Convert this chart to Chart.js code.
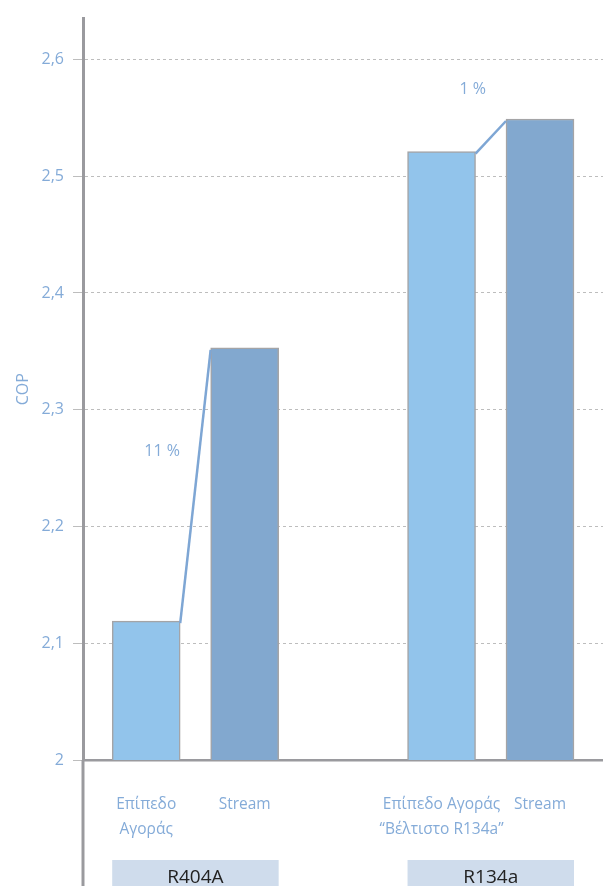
<!DOCTYPE html>
<html>
<head>
<meta charset="utf-8">
<script src="https://cdn.jsdelivr.net/npm/chart.js@4/dist/chart.umd.min.js"></script>
<style>
  body { margin: 0; background: #fff; }
  #wrap { width: 603px; height: 886px; }
</style>
</head>
<body>
<div id="wrap"><canvas id="chart"></canvas></div>
<script>
// slot order along x, a null slot leaves the gap between the two groups
const categories = ['Επίπεδο\nΑγοράς', 'Stream', null, 'Επίπεδο Αγοράς\n“Βέλτιστο R134a”', 'Stream'];
const copValues = [2.119, 2.353, null, 2.521, 2.549];
const groups = ['R404A', 'R134a'];
const gains = ['11 %', '1 %'];
const yTicks = [2, 2.1, 2.2, 2.3, 2.4, 2.5, 2.6];

const BLUE_TXT = '#84abd8';
const barColors = ['#92c4eb', '#82a8cf'];

const points = [];
categories.forEach((c, i) => {
  if (copValues[i] !== null) points.push({ x: i, y: copValues[i] });
});

// where the percentage labels sit relative to each connector line
const gainLabelPos = [{ t: 0.62, dx: -37, dy: 0 }, { t: 0.5, dx: -18, dy: -46 }];

const extras = {
  id: 'extras',
  beforeDatasetsDraw(chart) {
    const { ctx, chartArea } = chart;
    // y axis line continues below the baseline
    ctx.save();
    ctx.strokeStyle = '#9a9a9e';
    ctx.lineWidth = 3;
    ctx.beginPath();
    ctx.moveTo(chartArea.left, chartArea.bottom);
    ctx.lineTo(chartArea.left, chart.height);
    ctx.stroke();
    ctx.restore();
  },
  afterDatasetsDraw(chart) {
    const { ctx } = chart;
    const bars = chart.getDatasetMeta(0).data;
    ctx.save();
    for (let g = 0; g < 2; g++) {
      const a = bars[g * 2], b = bars[g * 2 + 1];
      const x1 = a.x + a.width / 2, y1 = a.y;
      const x2 = b.x - b.width / 2, y2 = b.y;
      ctx.strokeStyle = '#7ea6d4';
      ctx.lineWidth = 2.5;
      ctx.beginPath();
      ctx.moveTo(x1, y1 + 2);
      ctx.lineTo(x2, y2 + 2);
      ctx.stroke();

      const p = gainLabelPos[g];
      ctx.fillStyle = BLUE_TXT;
      ctx.font = '16px "Open Sans"';
      ctx.textAlign = 'center';
      ctx.textBaseline = 'middle';
      ctx.fillText(gains[g], x1 + (x2 - x1) * p.t + p.dx, y1 + (y2 - y1) * p.t + p.dy);

      // group box under the category labels
      const left = a.x - a.width / 2, right = b.x + b.width / 2;
      ctx.fillStyle = '#cfdcec';
      ctx.fillRect(left, 860, right - left, 26);
      ctx.fillStyle = '#222';
      ctx.font = '19px "Open Sans"';
      ctx.textBaseline = 'alphabetic';
      ctx.fillText(groups[g], (left + right) / 2, 883);
    }
    ctx.restore();
  }
};

new Chart(document.getElementById('chart'), {
  type: 'bar',
  data: {
    datasets: [{
      data: points,
      backgroundColor: points.map((p, i) => barColors[i % 2]),
      borderColor: '#a4a4a6',
      borderWidth: 1.5,
      barThickness: 68
    }]
  },
  options: {
    responsive: true,
    maintainAspectRatio: false,
    animation: false,
    layout: { padding: { top: 16, right: 0, left: 0, bottom: 0 } },
    plugins: { legend: { display: false }, tooltip: { enabled: false } },
    scales: {
      x: {
        type: 'linear',
        offset: false,
        min: -0.642,
        max: 4.64,
        afterBuildTicks: s => { s.ticks = points.map(p => ({ value: p.x })); },
        afterFit: s => { s.height = 126; },
        grid: { display: false },
        border: { display: true, color: '#9a9a9e', width: 2.5 },
        ticks: {
          autoSkip: false,
          maxRotation: 0,
          padding: 24,
          color: BLUE_TXT,
          font: { family: 'Open Sans', size: 15.5, lineHeight: 1.6 },
          callback: v => (categories[v] || '').split('\n')
        }
      },
      y: {
        min: 2,
        max: 2.635,
        afterBuildTicks: s => { s.ticks = yTicks.map(v => ({ value: v })); },
        afterFit: s => { s.width = 83; },
        grid: { color: '#bdbdbd', lineWidth: 1, tickLength: 10 },
        border: { color: '#9a9a9e', width: 3, dash: [3, 3] },
        ticks: {
          padding: 9,
          color: BLUE_TXT,
          font: { family: 'Open Sans', size: 16 },
          callback: v => v === 2 ? '2' : v.toFixed(1).replace('.', ',')
        },
        title: {
          display: true,
          text: 'COP',
          color: BLUE_TXT,
          font: { family: 'Open Sans', size: 16 },
          padding: { top: 14, bottom: 0 }
        }
      }
    }
  },
  plugins: [extras]
});
</script>
</body>
</html>
